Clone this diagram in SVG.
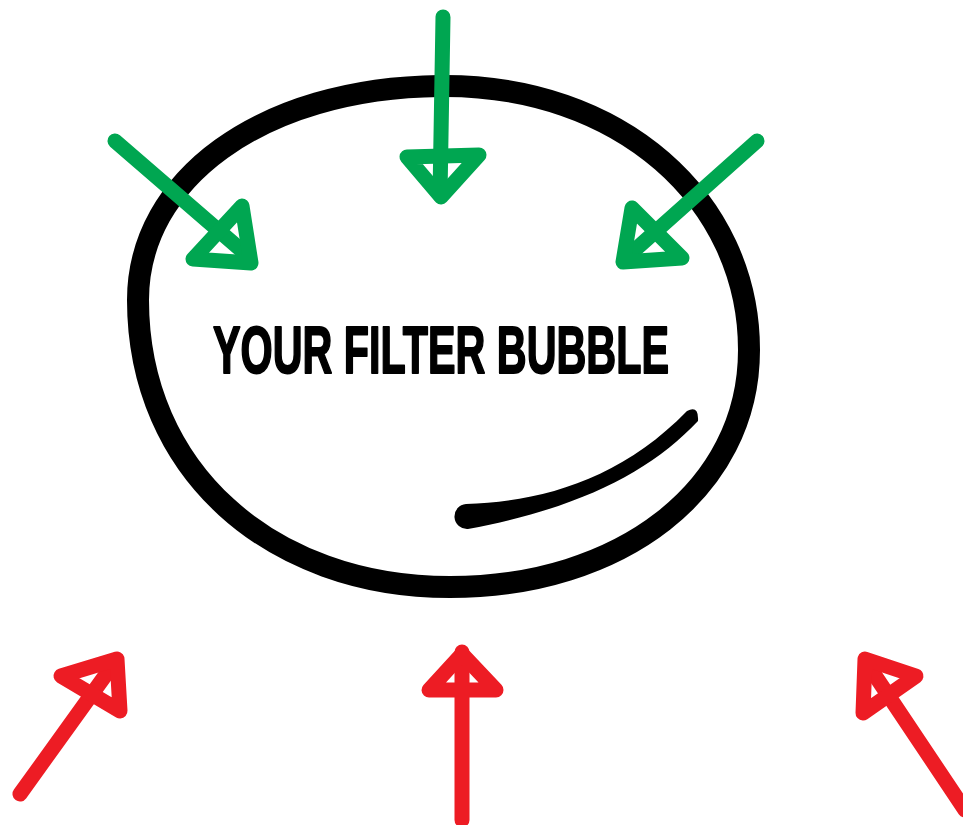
<svg xmlns="http://www.w3.org/2000/svg" width="963" height="825" viewBox="0 0 963 825">
<style>
.g{fill:none;stroke:#00a651;stroke-width:15;stroke-linecap:round;stroke-linejoin:round}
.r{fill:none;stroke:#ed1c24;stroke-width:15;stroke-linecap:round;stroke-linejoin:round}
.t{font-family:"Liberation Sans",Arial,sans-serif;font-weight:bold;font-size:67px;fill:#000;stroke:#000;stroke-width:2;stroke-linejoin:round}
</style>
<rect width="963" height="825" fill="#fff"/>
<g id="bubble">
<path d="M 440 86 C 620 84, 749 200, 749 350 C 749 490, 620 587, 450 587 C 270 587, 138 470, 138 300 C 138 180, 260 88, 440 86 Z" fill="none" stroke="#000" stroke-width="22"/>
<path d="M 466 504 C 540 502, 620 480, 687 411 Q 699 405 698 421 C 650 472, 580 508, 468 529 A 12.5 12.5 0 0 1 466 504 Z" fill="#000"/>
<text class="t" x="441" y="373" text-anchor="middle" textLength="456" lengthAdjust="spacingAndGlyphs">YOUR FILTER BUBBLE</text>
</g>
<g id="connectors">
<g id="green-top">
<path class="g" d="M 443 17 L 440 195"/>
<path class="g" d="M 407 157 L 479 155 L 441 197 Z"/>
</g>
<g id="green-left">
<path class="g" d="M 115 141 L 248 256"/>
<path class="g" d="M 193 259 L 242 206 L 251 263 Z"/>
</g>
<g id="green-right">
<path class="g" d="M 757 141 L 628 256"/>
<path class="g" d="M 623 262 L 632 208 L 682 258 Z"/>
</g>
<g id="red-left">
<path class="r" d="M 20 794 L 115 662"/>
<path class="r" d="M 61 676 L 117 659 L 120 711 Z"/>
</g>
<g id="red-center">
<path class="r" d="M 462 820 L 462 652"/>
<path class="r" d="M 462 654 L 429 690 L 496 690 Z"/>
</g>
<g id="red-right">
<path class="r" d="M 965 810 L 866 662"/>
<path class="r" d="M 865 659 L 863 713 L 916 676 Z"/>
</g>
</g>
</svg>
